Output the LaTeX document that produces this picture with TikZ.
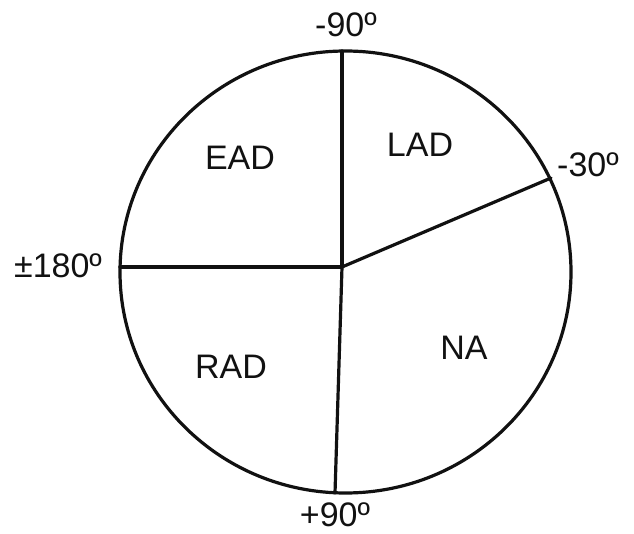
\documentclass[tikz,border=0pt]{standalone}
\usepackage{fontspec}
\setmainfont{Liberation Sans}
\usetikzlibrary{positioning,calc}
\definecolor{inkline}{HTML}{111111}

\begin{document}
\begin{tikzpicture}[
  x=1pt, y=-1pt,
  font=\fontsize{34}{38}\selectfont,
  rim/.style={draw=inkline, line width=3.2pt},
  spoke/.style={draw=inkline, line width=3.2pt, line cap=round},
  zone/.style={text=inkline, inner sep=0pt},
  deg/.style={text=inkline, inner sep=0pt},
]
\useasboundingbox (0,0) rectangle (634,534);

% ---- circle ----
\coordinate (ctr) at (345.5,272);
\draw[rim] (ctr) ellipse [x radius=225.5, y radius=221];

% ---- spokes ----
\coordinate (hub) at (342,267);
\coordinate (up)  at (342,51);
\coordinate (dn)  at (335,493);
\coordinate (lf)  at (120,267);
\coordinate (m30) at (551,178);
\draw[spoke] (hub) -- (up);
\draw[spoke] (hub) -- (dn);
\draw[spoke] (hub) -- (lf);
\draw[spoke] (hub) -- (m30);

% ---- axis labels ----
\node[deg] (tmin90)  at (346,25)  {-90º};
\node[deg] (tmin30)  at (588,165) {-30º};
\node[deg] (t180)    at (58,266)  {±180º};
\node[deg] (tplus90) at (335,515) {+90º};

% ---- zones ----
\node[zone] (ead) at (240,158) {EAD};
\node[zone] (lad) at (420,145) {LAD};
\node[zone] (rad) at (231,367) {RAD};
\node[zone] (na)  at (464,348) {NA};

\end{tikzpicture}
\end{document}
